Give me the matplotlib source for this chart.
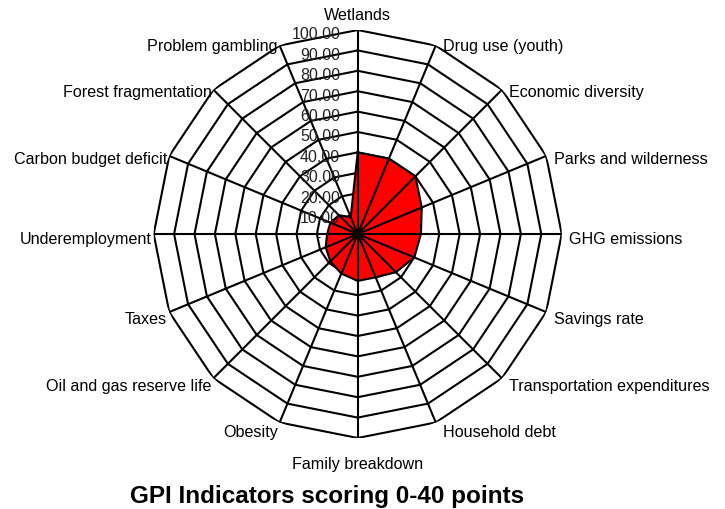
import matplotlib
matplotlib.use("Agg")
import numpy as np
import matplotlib.pyplot as plt
from matplotlib.transforms import ScaledTranslation

plt.rcParams["font.family"] = ["Liberation Sans", "DejaVu Sans"]

# GPI indicators scoring 0-40 points
categories = [
    "Wetlands", "Drug use (youth)", "Economic diversity", "Parks and wilderness",
    "GHG emissions", "Savings rate", "Transportation expenditures", "Household debt",
    "Family breakdown", "Obesity", "Oil and gas reserve life", "Taxes",
    "Underemployment", "Carbon budget deficit", "Forest fragmentation", "Problem gambling",
]
scores = [40, 40, 40, 34, 31, 30, 26.5, 23, 23, 21, 19, 17, 15, 14.5, 13, 9]
ring_levels = [10, 20, 30, 40, 50, 60, 70, 80, 90, 100]
ring_labels = ["10.00", "20.00", "30.00", "40.00", "50.00",
               "60.00", "70.00", "80.00", "90.00", "100.00"]
zero_label = "-"
title = "GPI Indicators scoring 0-40 points"

W, H = 725, 510
fig = plt.figure(figsize=(W / 100, H / 100), dpi=100)

cx, cy, rad = 357.7, 235.0, 204.0
ax = fig.add_axes([(cx - rad) / W, 1 - (cy + rad) / H, 2 * rad / W, 2 * rad / H],
                  projection="polar")
ax.set_theta_zero_location("N")
ax.set_theta_direction(-1)
ax.set_ylim(0, 100)
ax.grid(False)
ax.spines["polar"].set_visible(False)
ax.set_xticks([])
ax.set_yticks([])
ax.patch.set_visible(False)

n = len(categories)
theta = np.arange(n) * 2 * np.pi / n
theta_c = np.append(theta, theta[0])
vals_c = np.append(scores, scores[0])

lw = 1.5
# polygonal rings
for lvl in ring_levels:
    ax.plot(theta_c, [lvl] * (n + 1), color="black", lw=lw, zorder=1,
            solid_joinstyle="miter")

# filled series
ax.fill(theta_c, vals_c, color="#ff0000", zorder=2, lw=0)
ax.plot(theta_c, vals_c, color="black", lw=lw, zorder=3, solid_joinstyle="miter")

# spokes
for t in theta:
    ax.plot([t, t], [0, 100], color="black", lw=lw, zorder=4)

# value axis labels along the first spoke
lab_tr = ax.transData + ScaledTranslation(-0.175, -0.04, fig.dpi_scale_trans)
for lvl, lab in zip(ring_levels, ring_labels):
    ax.text(0, lvl, lab, ha="right", va="center", fontsize=11.5, color="#222222",
            transform=lab_tr, zorder=5)
ax.text(0, 0, zero_label, ha="center", va="center", fontsize=11.5, color="#222222",
        transform=ax.transData + ScaledTranslation(-0.40, -0.03, fig.dpi_scale_trans),
        zorder=5)

# category labels around the outer ring
for t, name in zip(theta, categories):
    s, c = np.sin(t), np.cos(t)
    if abs(s) < 1e-6:
        ha = "center"
        dx = 0.0
        dy = 0.15 if c > 0 else -0.26
    else:
        ha = "left" if s > 0 else "right"
        dx = 0.075 if s > 0 else -0.02
        dy = -0.045 * (1 - c)
    tr = ax.transData + ScaledTranslation(dx, dy, fig.dpi_scale_trans)
    ax.text(t, 100, name, ha=ha, va="center", fontsize=11.6, color="black",
            transform=tr, clip_on=False)

fig.text(327 / W, 1 - 497 / H, title, ha="center", va="center",
         fontsize=17.5, fontweight="bold")

fig.savefig("out.png", dpi=100)
